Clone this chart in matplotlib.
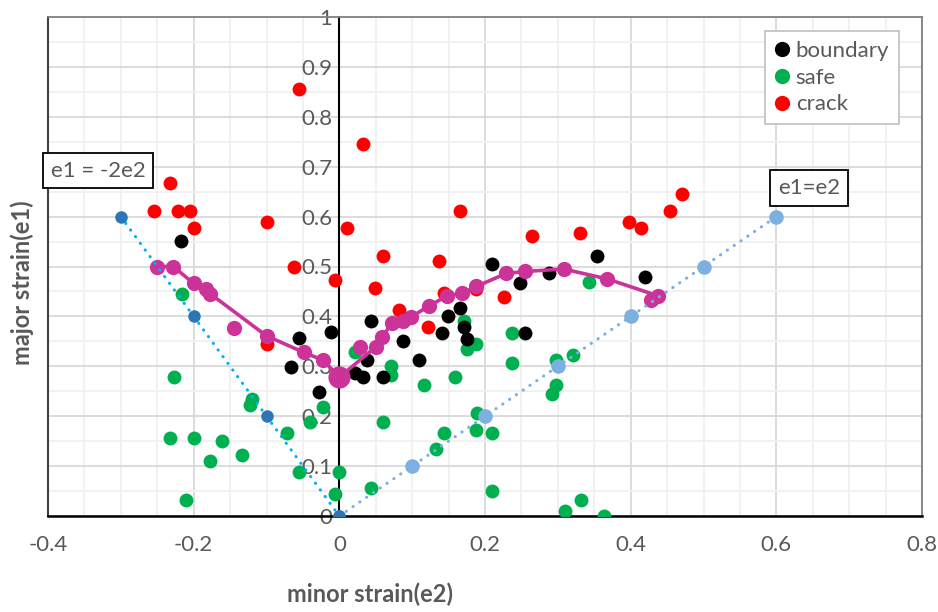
import matplotlib
matplotlib.use('Agg')
import matplotlib.pyplot as plt
from matplotlib.ticker import MultipleLocator

plt.rcParams['font.family'] = ['Lato', 'DejaVu Sans']

# boundary points (e2, e1)
boundary_e2 = [-0.217, -0.056, -0.0115, -0.067, -0.028, 0.0435, 0.088, 0.038, 0.022, 0.0325,
               0.060, 0.110, 0.141, 0.149, 0.166, 0.171, 0.1754, 0.2097, 0.2486, 0.255,
               0.2875, 0.354, 0.420]
boundary_e1 = [0.551, 0.356, 0.368, 0.299, 0.249, 0.390, 0.350, 0.3126, 0.287, 0.279,
               0.279, 0.3126, 0.367, 0.400, 0.416, 0.378, 0.354, 0.506, 0.466, 0.367,
               0.4876, 0.522, 0.478]

safe_e2 = [-0.2166, -0.227, -0.1195, -0.123, -0.232, -0.1996, -0.161, -0.177, -0.134, -0.072,
           -0.040, -0.0224, -0.056, 0.000, -0.006, -0.211, 0.022, 0.0714, 0.0714, 0.116,
           0.159, 0.171, 0.1754, 0.1877, 0.237, 0.237, 0.3425, 0.298, 0.3205, 0.298,
           0.292, 0.060, 0.189, 0.187, 0.2097, 0.1433, 0.1323, 0.0435, 0.2097, 0.3095,
           0.332, 0.364]
safe_e1 = [0.445, 0.278, 0.2345, 0.222, 0.156, 0.156, 0.151, 0.111, 0.122, 0.167,
           0.189, 0.218, 0.089, 0.089, 0.044, 0.033, 0.329, 0.300, 0.283, 0.262,
           0.278, 0.391, 0.334, 0.345, 0.367, 0.306, 0.468, 0.313, 0.323, 0.262,
           0.245, 0.189, 0.206, 0.172, 0.167, 0.167, 0.134, 0.056, 0.051, 0.011,
           0.033, 0.001]

crack_e2 = [-0.233, -0.255, -0.222, -0.205, -0.200, -0.100, -0.056, 0.0105, -0.062, 0.0325,
            0.060, 0.137, 0.165, 0.265, 0.331, 0.398, 0.414, 0.454, 0.470, -0.100,
            -0.0055, 0.0495, 0.0824, 0.1433, 0.187, 0.2266, 0.1213]
crack_e1 = [0.667, 0.612, 0.612, 0.612, 0.578, 0.590, 0.856, 0.578, 0.500, 0.745,
            0.522, 0.512, 0.612, 0.562, 0.567, 0.590, 0.578, 0.612, 0.645, 0.344,
            0.472, 0.456, 0.413, 0.446, 0.455, 0.4395, 0.378]

# forming limit curve (magenta)
flc_e2 = [-0.250, -0.228, -0.200, -0.183, -0.177, -0.100, -0.049, -0.022, 0.000, 0.050,
          0.059, 0.072, 0.088, 0.099, 0.123, 0.148, 0.169, 0.188, 0.229, 0.255,
          0.308, 0.368, 0.438]
flc_e1 = [0.500, 0.500, 0.466, 0.454, 0.445, 0.361, 0.328, 0.312, 0.278, 0.339,
          0.359, 0.386, 0.391, 0.399, 0.421, 0.441, 0.446, 0.460, 0.486, 0.490,
          0.495, 0.475, 0.441]
flc_extra_e2 = [-0.145, 0.029, 0.428]
flc_extra_e1 = [0.377, 0.339, 0.432]

# reference lines
neg_e2 = [-0.3, -0.2, -0.1, 0.0]
neg_e1 = [0.6, 0.4, 0.2, 0.0]
eq_e2 = [0.0, 0.1, 0.2, 0.3, 0.4, 0.5, 0.6]
eq_e1 = [0.0, 0.1, 0.2, 0.3, 0.4, 0.5, 0.6]

x_ticks = [-0.4, -0.2, 0, 0.2, 0.4, 0.6, 0.8]
x_labels = ['-0.4', '-0.2', '0', '0.2', '0.4', '0.6', '0.8']
y_ticks = [0, 0.1, 0.2, 0.3, 0.4, 0.5, 0.6, 0.7, 0.8, 0.9, 1]
y_labels = ['0', '0.1', '0.2', '0.3', '0.4', '0.5', '0.6', '0.7', '0.8', '0.9', '1']

GREY = '#595959'
MAG = '#cc3399'

fig = plt.figure(figsize=(9.38, 6.12), dpi=100)
ax = fig.add_axes([48 / 938, 1 - 516 / 612, 874 / 938, 499 / 612])

ms = 10
ax.plot(safe_e2, safe_e1, 'o', color='#00b050', ms=ms, mew=0, label='safe', zorder=3)
ax.plot(boundary_e2, boundary_e1, 'o', color='black', ms=ms, mew=0, label='boundary', zorder=4)
ax.plot(crack_e2, crack_e1, 'o', color='#ff0000', ms=ms, mew=0, label='crack', zorder=5)

ax.plot(flc_e2, flc_e1, '-', color=MAG, lw=2.6, zorder=6)
ax.plot(flc_e2, flc_e1, 'o', color=MAG, ms=ms + 1, mew=0, zorder=6)
ax.plot(flc_extra_e2, flc_extra_e1, 'o', color=MAG, ms=ms + 1, mew=0, zorder=6)
i0 = flc_e2.index(0.000)
ax.plot(flc_e2[i0], flc_e1[i0], 'o', color=MAG, ms=16, mew=0, zorder=6)

dots = (0, (0.1, 2.6))
ax.plot(neg_e2, neg_e1, color='#00b0f0', lw=2.2, ls=dots, dash_capstyle='round', zorder=7)
ax.plot(neg_e2, neg_e1, 'o', color='#2e75b6', ms=9, mew=0, zorder=7)
ax.plot(eq_e2, eq_e1, color='#7dafe0', lw=2.2, ls=dots, dash_capstyle='round', zorder=7)
ax.plot(eq_e2[1:], eq_e1[1:], 'o', color='#7dafe0', ms=10.5, mew=0, zorder=7)
ax.plot(eq_e2[0], eq_e1[0], 'o', color='#2e75b6', ms=9, mew=0, zorder=8)

ax.set_xlim(-0.4, 0.8)
ax.set_ylim(0, 1)
ax.set_xticks(x_ticks)
ax.set_xticklabels(x_labels)
ax.set_yticks(y_ticks)
ax.set_yticklabels(y_labels)
ax.xaxis.set_minor_locator(MultipleLocator(0.05))
ax.yaxis.set_minor_locator(MultipleLocator(0.05))
ax.grid(which='major', color='#d9d9d9', lw=1.3, zorder=0)
ax.grid(which='minor', color='#f0f0f0', lw=1.3, zorder=0)
ax.set_axisbelow(True)
ax.tick_params(which='both', length=0)
ax.tick_params(axis='x', labelsize=16, labelcolor=GREY, pad=14)
ax.tick_params(axis='y', labelsize=16, labelcolor=GREY, pad=5)

# y axis crosses at e2 = 0, frame kept in grey
ax.spines['left'].set_position(('data', 0))
ax.spines['left'].set_color('black')
ax.spines['left'].set_linewidth(1.5)
ax.spines['left'].set_zorder(2)
ax.spines['bottom'].set_color('black')
ax.spines['bottom'].set_linewidth(1.8)
for s in ['top', 'right']:
    ax.spines[s].set_color('#808080')
    ax.spines[s].set_linewidth(1.3)
ax.axvline(-0.4, color='#404040', lw=1.5, clip_on=False, zorder=2)

box = dict(boxstyle='square,pad=0.35', fc='white', ec='black', lw=1.3)
ax.text(-0.331, 0.692, 'e1 = -2e2', fontsize=16, color=GREY, ha='center', va='center', bbox=box, zorder=9)
ax.text(0.645, 0.657, 'e1=e2', fontsize=16, color=GREY, ha='center', va='center', bbox=box, zorder=9)

h, l = ax.get_legend_handles_labels()
order = [1, 0, 2]
leg = ax.legend([h[i] for i in order], [l[i] for i in order], loc='upper right',
                bbox_to_anchor=(0.974, 0.972), borderaxespad=0, fontsize=16,
                frameon=True, fancybox=False, edgecolor='#c0c0c0', framealpha=1,
                handlelength=0.7, handletextpad=0.25, labelspacing=0.3, borderpad=0.45,
                markerscale=1.1)
for t in leg.get_texts():
    t.set_color(GREY)
leg.get_frame().set_linewidth(1.2)
leg.set_zorder(10)

fig.text(370 / 938, 1 - 594 / 612, 'minor strain(e2)', fontsize=17, fontweight='bold',
         color=GREY, ha='center', va='center')
fig.text(22 / 938, 1 - 283 / 612, 'major strain(e1)', fontsize=17, fontweight='bold',
         color=GREY, ha='center', va='center', rotation=90)

fig.savefig('out.png', dpi=100)
